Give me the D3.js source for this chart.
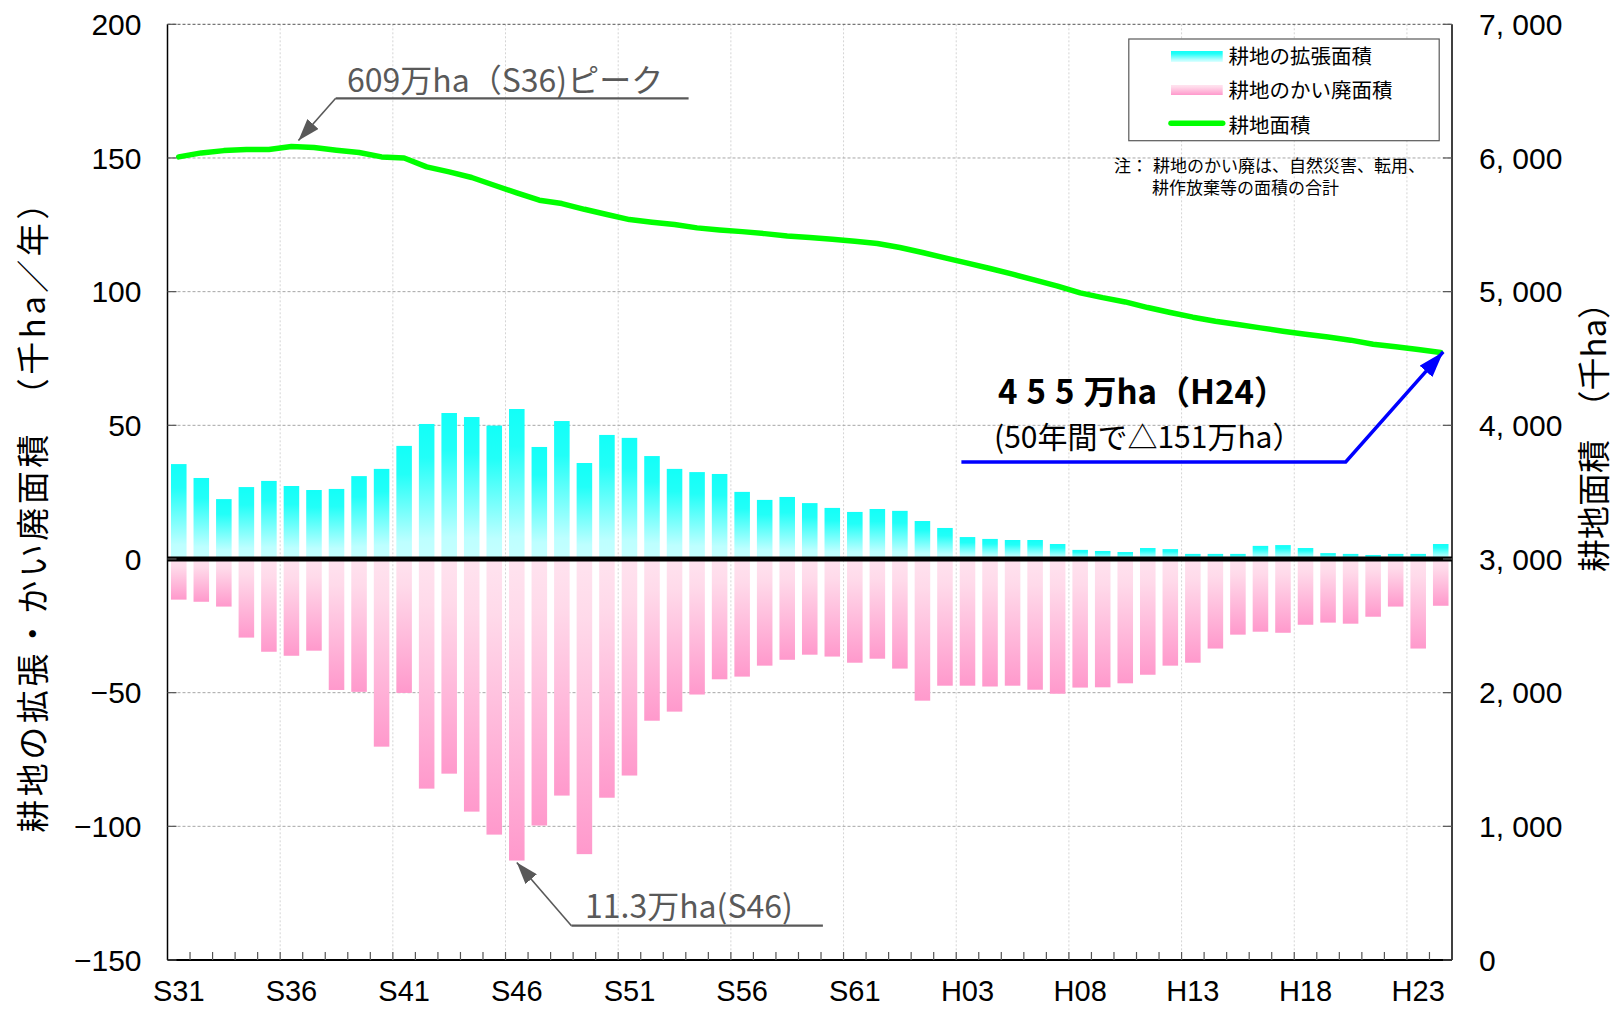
<!DOCTYPE html>
<meta charset="utf-8">
<style>
body { margin: 0; background: #fff; }
svg { display: block; background: #fff; }
.num { font-family: "Liberation Sans Narrow", "Liberation Sans", Arial, sans-serif; fill: #000; }
.jp { font-family: "Noto Sans CJK JP", sans-serif; }
.hgrid { stroke: #a6a6a6; stroke-width: 1; stroke-dasharray: 3,2; }
.vgrid { stroke: #d4d4d4; stroke-width: 1; stroke-dasharray: 2,2; }
.tick { stroke: #555; stroke-width: 1.2; }
</style>
<body>
<svg id="chart"></svg>
<script src="https://cdn.jsdelivr.net/npm/d3@7/dist/d3.min.js"></script>
<script>

// 年度 (S31 = 1956 ... H24 = 2012)
var years = ["S31","S32","S33","S34","S35","S36","S37","S38","S39","S40",
  "S41","S42","S43","S44","S45","S46","S47","S48","S49","S50",
  "S51","S52","S53","S54","S55","S56","S57","S58","S59","S60",
  "S61","S62","S63","H01","H02","H03","H04","H05","H06","H07",
  "H08","H09","H10","H11","H12","H13","H14","H15","H16","H17",
  "H18","H19","H20","H21","H22","H23","H24"];

var yearLabels = ["S31","S36","S41","S46","S51","S56","S61","H03","H08","H13","H18","H23"];

// 耕地の拡張面積 (千ha/年)
var expansion = [35.5,30.3,22.4,26.9,29.2,27.3,25.8,26.2,31.0,33.7,
  42.3,50.5,54.6,53.1,49.9,56.1,41.9,51.6,35.9,46.4,
  45.3,38.5,33.7,32.5,31.8,25.1,22.1,23.2,20.9,19.1,
  17.6,18.7,18.0,14.2,11.6,8.2,7.5,7.1,7.1,5.6,
  3.4,3.0,2.6,4.1,3.7,1.9,1.9,1.9,4.9,5.2,
  4.1,2.2,1.9,1.5,1.9,1.9,5.6];

// 耕地のかい廃面積 (千ha/年, マイナス表示)
var abandonment = [-15.2,-16.0,-17.8,-29.4,-34.7,-36.2,-34.3,-49.0,-49.7,-70.2,
  -50.1,-85.9,-80.3,-94.5,-103.1,-112.8,-99.7,-88.5,-110.4,-89.3,
  -81.0,-60.5,-57.1,-50.7,-45.0,-44.0,-39.9,-37.7,-35.8,-36.5,
  -38.8,-37.3,-41.0,-53.0,-47.4,-47.4,-47.7,-47.4,-48.9,-50.4,
  -48.1,-48.0,-46.5,-43.3,-39.9,-38.8,-33.5,-28.3,-27.2,-27.6,
  -24.6,-23.8,-24.2,-21.6,-17.8,-33.5,-17.5];

// 耕地面積 (千ha)
var area = [6008,6038,6055,6063,6063,6086,6078,6058,6041,6008,
  6000,5933,5896,5854,5796,5739,5684,5659,5616,5577,
  5539,5519,5502,5477,5462,5449,5434,5417,5405,5392,
  5377,5360,5330,5293,5253,5213,5173,5131,5086,5041,
  4991,4955,4923,4881,4844,4809,4779,4754,4729,4704,
  4682,4660,4637,4607,4587,4567,4545];

var leftTicks = [-150,-100,-50,0,50,100,150,200];
var rightTicks = [0,1000,2000,3000,4000,5000,6000,7000];

var width = 1619, height = 1010;
var margin = {top: 24.3, right: 167, bottom: 50, left: 167.5};
var x0 = margin.left, x1 = width - margin.right,
    yTop = margin.top, yBot = height - margin.bottom;

var svg = d3.select("#chart")
  .attr("width", width)
  .attr("height", height);

var x = d3.scaleBand()
  .domain(years)
  .range([x0, x1])
  .paddingInner(0.31)
  .paddingOuter(0.155);

var step = x.step();
function edge(d) { return x(d) - step * 0.155; }
function mid(d) { return x(d) + x.bandwidth() / 2; }

var yL = d3.scaleLinear().domain([-150, 200]).range([yBot, yTop]);
var yR = d3.scaleLinear().domain([0, 7000]).range([yBot, yTop]);

// gradients
var defs = svg.append("defs");
function grad(id, stops) {
  var g = defs.append("linearGradient").attr("id", id)
    .attr("x1", 0).attr("y1", 0).attr("x2", 0).attr("y2", 1);
  stops.forEach(function(s) {
    g.append("stop").attr("offset", s[0]).attr("stop-color", s[1]);
  });
}
grad("gPos", [[0, "#12fff8"], [0.25, "#22fff8"], [0.85, "#bdffff"], [1, "#c6ffff"]]);
grad("gNeg", [[0, "#ffe3ef"], [0.2, "#ffdaea"], [1, "#ff99cc"]]);

function marker(id, color, w, h) {
  defs.append("marker").attr("id", id)
    .attr("viewBox", "0 0 " + w + " " + h)
    .attr("refX", w).attr("refY", h / 2)
    .attr("markerWidth", w).attr("markerHeight", h)
    .attr("markerUnits", "userSpaceOnUse")
    .attr("orient", "auto")
    .append("path")
    .attr("d", "M0,0 L" + w + "," + (h / 2) + " L0," + h + " Z")
    .attr("fill", color);
}
marker("arrGray", "#595959", 22, 15);
marker("arrBlue", "#0000ff", 26, 17);

// grid
svg.append("g").selectAll("line")
  .data(yearLabels.slice(1))
  .enter().append("line")
  .attr("class", "vgrid")
  .attr("x1", edge).attr("x2", edge)
  .attr("y1", yTop).attr("y2", yBot);

svg.append("g").selectAll("line")
  .data(leftTicks.filter(function(d) { return d !== -150 && d !== 0; }))
  .enter().append("line")
  .attr("class", "hgrid")
  .attr("x1", x0).attr("x2", x1)
  .attr("y1", yL).attr("y2", yL)
  .style("stroke", function(d) { return d === 200 ? "#555" : null; });

// bars
svg.append("g").selectAll("rect")
  .data(expansion)
  .enter().append("rect")
  .attr("x", function(d, i) { return x(years[i]); })
  .attr("width", x.bandwidth())
  .attr("y", function(d) { return yL(d); })
  .attr("height", function(d) { return yL(0) - yL(d); })
  .attr("fill", "url(#gPos)");

svg.append("g").selectAll("rect")
  .data(abandonment)
  .enter().append("rect")
  .attr("x", function(d, i) { return x(years[i]); })
  .attr("width", x.bandwidth())
  .attr("y", yL(0))
  .attr("height", function(d) { return yL(d) - yL(0); })
  .attr("fill", "url(#gNeg)");

// zero line
svg.append("line")
  .attr("x1", x0).attr("x2", x1)
  .attr("y1", yL(0)).attr("y2", yL(0))
  .attr("stroke", "#000").attr("stroke-width", 5);

// area line
var line = d3.line()
  .x(function(d, i) { return mid(years[i]); })
  .y(function(d) { return yR(d); });

svg.append("path")
  .datum(area)
  .attr("d", line)
  .attr("fill", "none")
  .attr("stroke", "#00ff00")
  .attr("stroke-width", 5.5)
  .attr("stroke-linejoin", "round")
  .attr("stroke-linecap", "round");

// axes frame
svg.append("line").attr("x1", x0).attr("x2", x0).attr("y1", yTop).attr("y2", yBot)
  .attr("stroke", "#000").attr("stroke-width", 1.5);
svg.append("line").attr("x1", x1).attr("x2", x1).attr("y1", yTop).attr("y2", yBot)
  .attr("stroke", "#000").attr("stroke-width", 1.5);
svg.append("line").attr("x1", x0).attr("x2", x1).attr("y1", yBot).attr("y2", yBot)
  .attr("stroke", "#000").attr("stroke-width", 2);

// inner ticks
svg.append("g").selectAll("line")
  .data(years.slice(1))
  .enter().append("line")
  .attr("class", "tick")
  .attr("x1", edge).attr("x2", edge)
  .attr("y1", yBot).attr("y2", yBot - 8);

svg.append("g").selectAll("line")
  .data(leftTicks)
  .enter().append("line")
  .attr("class", "tick")
  .attr("x1", x0).attr("x2", x0 + 9)
  .attr("y1", yL).attr("y2", yL);

svg.append("g").selectAll("line")
  .data(rightTicks)
  .enter().append("line")
  .attr("class", "tick")
  .attr("x1", x1 - 9).attr("x2", x1)
  .attr("y1", yR).attr("y2", yR);

// tick labels
svg.append("g").selectAll("text")
  .data(leftTicks)
  .enter().append("text")
  .attr("class", "num")
  .attr("x", x0 - 26)
  .attr("y", yL)
  .attr("dy", ".36em")
  .attr("text-anchor", "end")
  .style("font-size", "30px")
  .text(function(d) { return d < 0 ? "\u2212" + (-d) : d; });

var fmt = d3.format(",");
svg.append("g").selectAll("text")
  .data(rightTicks)
  .enter().append("text")
  .attr("class", "num")
  .attr("x", x1 + 27)
  .attr("y", yR)
  .attr("dy", ".36em")
  .style("font-size", "30px")
  .text(function(d) { return fmt(d).replace(",", ", "); });

svg.append("g").selectAll("text")
  .data(yearLabels)
  .enter().append("text")
  .attr("class", "num")
  .attr("x", mid)
  .attr("y", 1001)
  .attr("text-anchor", "middle")
  .style("font-size", "29px")
  .text(function(d) { return d; });

// axis titles
svg.append("text")
  .attr("class", "jp")
  .attr("transform", "translate(45,508) rotate(-90)")
  .attr("text-anchor", "middle")
  .style("font-size", "33px")
  .style("letter-spacing", "3.5px")
  .text("耕地の拡張・かい廃面積　（千ha／年）");

svg.append("text")
  .attr("class", "jp")
  .attr("transform", "translate(1606,429) rotate(-90)")
  .attr("text-anchor", "middle")
  .style("font-size", "33px")
  .text("耕地面積　（千ha）");

// legend
var lg = svg.append("g");
lg.append("rect")
  .attr("x", 1128.8).attr("y", 39)
  .attr("width", 310.4).attr("height", 101.7)
  .attr("fill", "#fff").attr("stroke", "#595959").attr("stroke-width", 1.2);
lg.append("rect").attr("x", 1171).attr("y", 51).attr("width", 51.7).attr("height", 10.7)
  .attr("fill", "url(#gPos)");
lg.append("rect").attr("x", 1171).attr("y", 85).attr("width", 51.7).attr("height", 10)
  .attr("fill", "url(#gNeg)");
lg.append("line").attr("x1", 1171).attr("x2", 1222.7).attr("y1", 123.3).attr("y2", 123.3)
  .attr("stroke", "#00ff00").attr("stroke-width", 5.5).attr("stroke-linecap", "round");

var legendNames = ["耕地の拡張面積", "耕地のかい廃面積", "耕地面積"];
lg.selectAll("text.lab")
  .data(legendNames)
  .enter().append("text")
  .attr("class", "jp lab")
  .attr("x", 1228.5)
  .attr("y", function(d, i) { return [63.5, 98.3, 132.7][i]; })
  .style("font-size", "20.5px")
  .text(function(d) { return d; });

svg.append("text").attr("class", "jp")
  .attr("x", 1114).attr("y", 171.7)
  .style("font-size", "17px")
  .text("注：");
svg.append("text").attr("class", "jp")
  .attr("x", 1153).attr("y", 171.7)
  .style("font-size", "17px")
  .text("耕地のかい廃は、自然災害、転用、");
svg.append("text").attr("class", "jp")
  .attr("x", 1152).attr("y", 194.3)
  .style("font-size", "17px")
  .text("耕作放棄等の面積の合計");

// annotations
var iPeak = 5, iMin = 15, iLast = years.length - 1;

svg.append("text").attr("class", "jp")
  .attr("x", 347).attr("y", 91.5)
  .attr("fill", "#595959")
  .style("font-size", "32px")
  .text("609万ha（S36)ピーク");
svg.append("line")
  .attr("x1", 335.7).attr("x2", 688.6).attr("y1", 98.3).attr("y2", 98.3)
  .attr("stroke", "#595959").attr("stroke-width", 2.2);
svg.append("line")
  .attr("x1", 335.7).attr("y1", 98.3)
  .attr("x2", mid(years[iPeak]) + 7).attr("y2", yR(area[iPeak]) - 6)
  .attr("stroke", "#595959").attr("stroke-width", 1.6)
  .attr("marker-end", "url(#arrGray)");

svg.append("text").attr("class", "jp")
  .attr("x", 585).attr("y", 918.3)
  .attr("fill", "#595959")
  .style("font-size", "32px")
  .text("11.3万ha(S46)");
svg.append("line")
  .attr("x1", 571.4).attr("x2", 822.9).attr("y1", 925.7).attr("y2", 925.7)
  .attr("stroke", "#595959").attr("stroke-width", 2.2);
svg.append("line")
  .attr("x1", 571.4).attr("y1", 925.7)
  .attr("x2", mid(years[iMin])).attr("y2", yL(abandonment[iMin]) + 2)
  .attr("stroke", "#595959").attr("stroke-width", 1.6)
  .attr("marker-end", "url(#arrGray)");

var t1 = svg.append("text").attr("class", "jp")
  .attr("x", 998).attr("y", 404)
  .style("font-size", "33px").style("font-weight", "bold");
t1.append("tspan").style("letter-spacing", "9px").text("455");
t1.append("tspan").text("万ha（H24）");

svg.append("text").attr("class", "jp")
  .attr("x", 994).attr("y", 448.3)
  .style("font-size", "30px")
  .text("(50年間で△151万ha）");

svg.append("path")
  .attr("d", "M961.4,462 L1345.7,462 L" + (mid(years[iLast]) + 2.5) + "," + (yR(area[iLast]) - 0.5))
  .attr("fill", "none")
  .attr("stroke", "#0000ff").attr("stroke-width", 3.5)
  .attr("marker-end", "url(#arrBlue)");

</script>
